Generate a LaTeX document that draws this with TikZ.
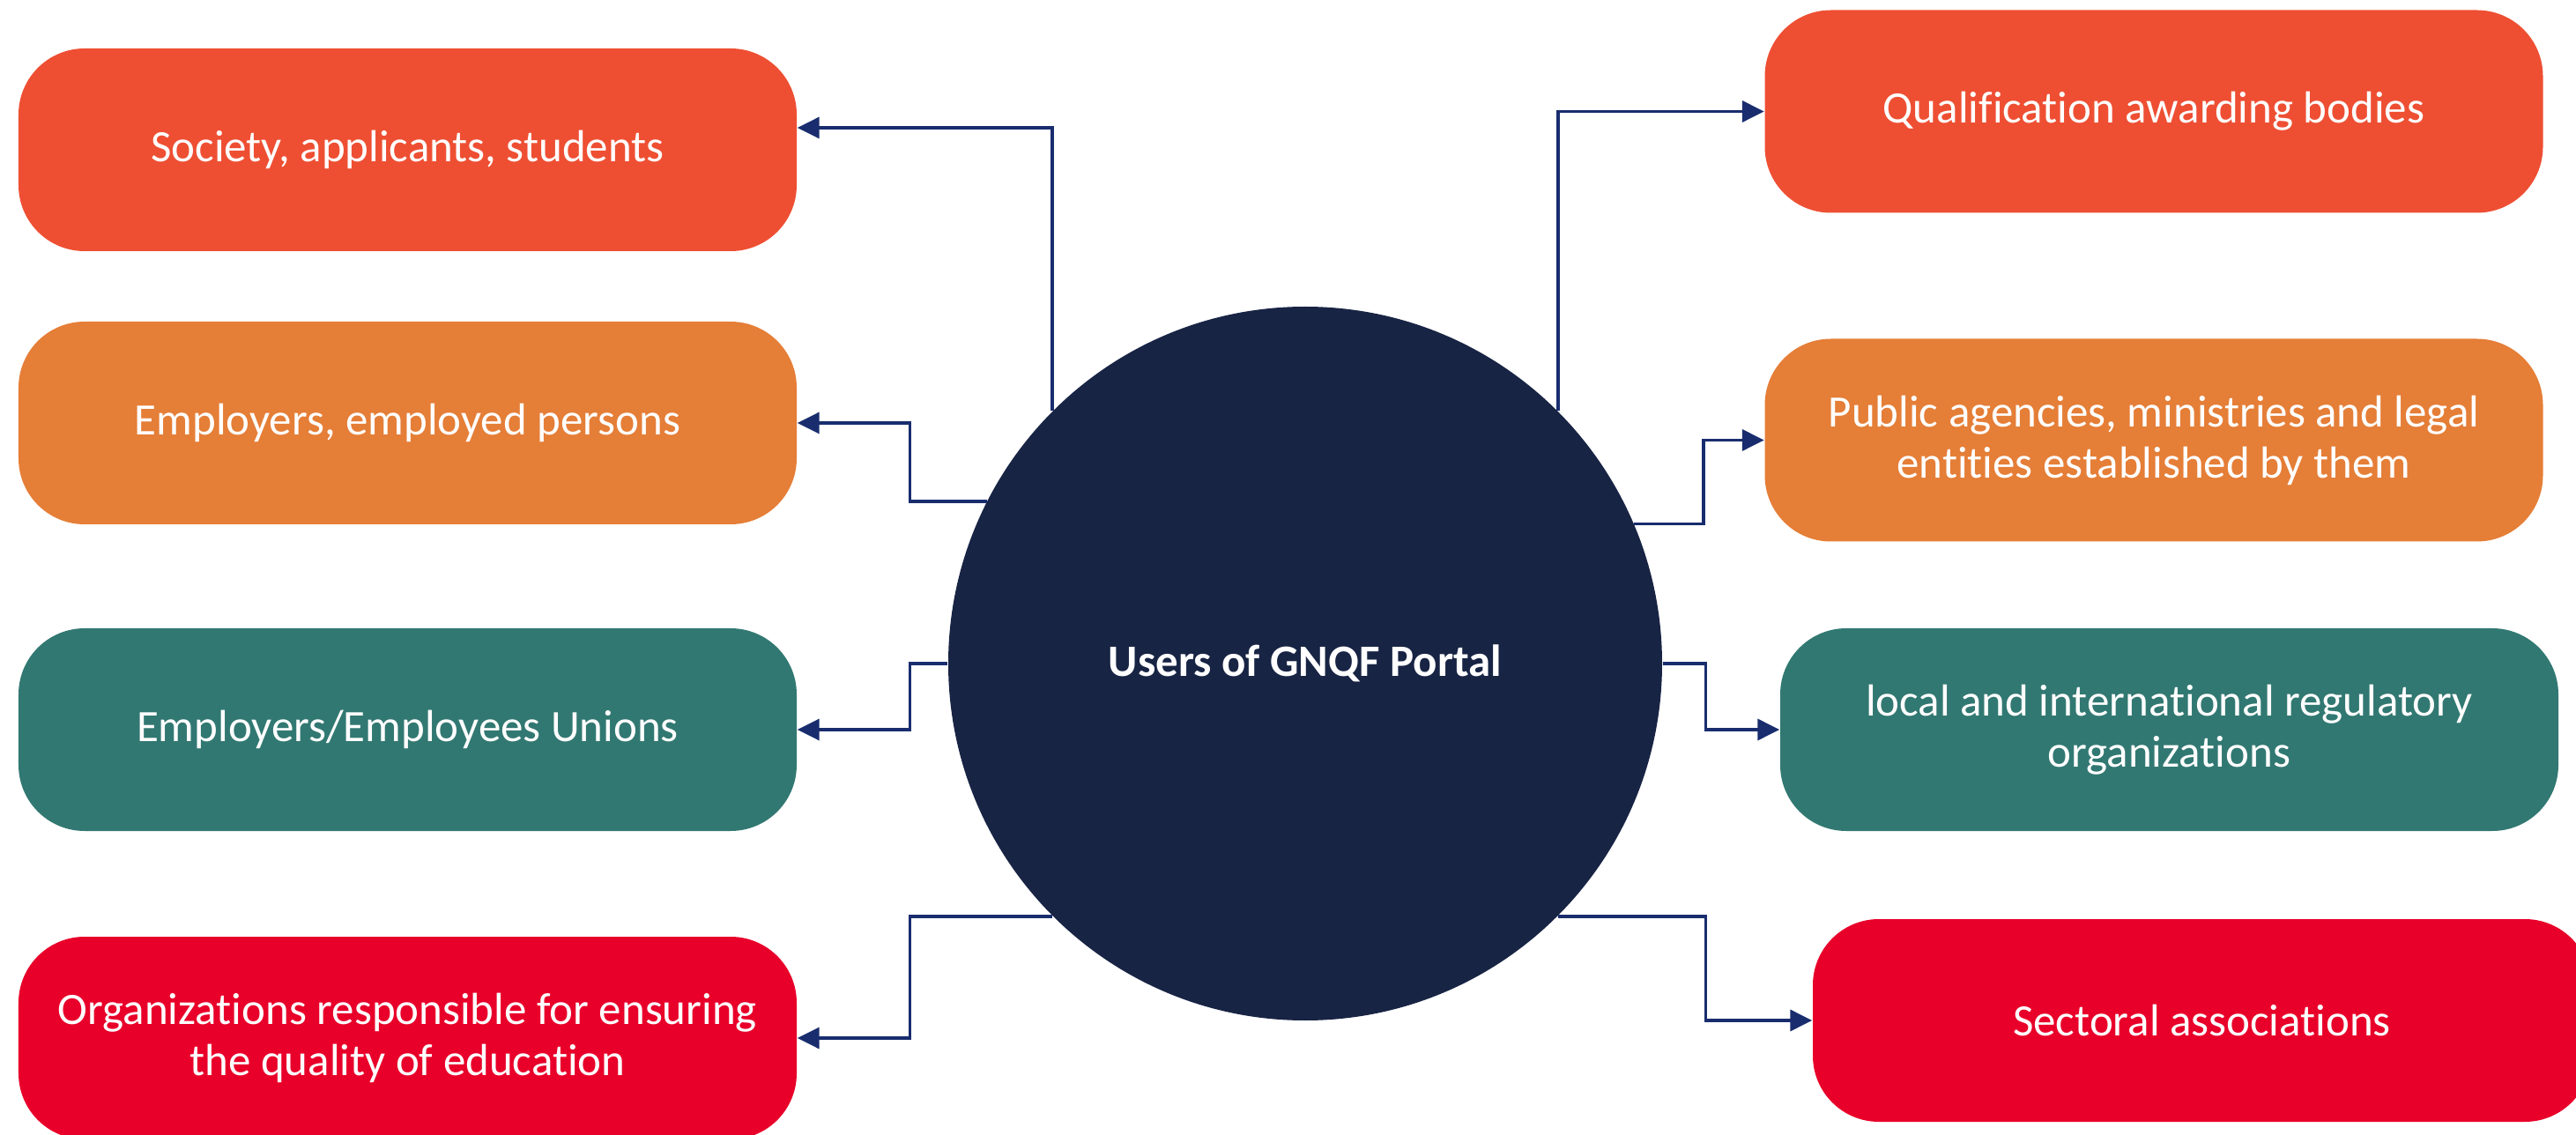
\documentclass[tikz,border=0pt]{standalone}
\usepackage{fontspec}
\setmainfont{Carlito}[Ligatures=NoCommon]
\usepackage{xcolor}
\usetikzlibrary{positioning, arrows.meta}
\usetikzlibrary{calc}

\definecolor{boxtomato}{RGB}{238,79,51}
\definecolor{boxamber}{RGB}{229,126,55}
\definecolor{boxteal}{RGB}{50,120,114}
\definecolor{boxcrimson}{RGB}{232,0,42}
\definecolor{hubnavy}{RGB}{24,36,68}
\definecolor{linknavy}{RGB}{25,45,110}

\begin{document}
\begin{tikzpicture}[
    usergroup/.style={rectangle, rounded corners=0.75cm, minimum width=8.83cm, minimum height=2.3cm,
        inner sep=0pt, text=white, align=center, font=\fontsize{14.5pt}{16.5pt}\selectfont},
    link/.style={draw=linknavy, line width=1pt, -{Triangle[length=0.25cm, width=0.24cm]}}
]
    \useasboundingbox (0,0) rectangle (29.23,-12.88);

    % Draw the central circle
    \node[circle, fill=hubnavy, minimum size=8.1cm, inner sep=0pt, text=white,
        font=\fontsize{14.5pt}{16.5pt}\selectfont\bfseries] (hub) at (14.81,-7.53) {Users of GNQF Portal};

    % Draw the groups on the left
    \node[usergroup, fill=boxtomato] (society) at (4.625,-1.70) {Society, applicants, students};
    \node[usergroup, fill=boxamber] (employers) at (4.625,-4.80) {Employers, employed persons};
    \node[usergroup, fill=boxteal] (unions) at (4.625,-8.28) {Employers/Employees Unions};
    \node[usergroup, fill=boxcrimson] (quality) at (4.625,-11.78) {Organizations responsible for ensuring\\the quality of education};

    % Draw the groups on the right
    \node[usergroup, fill=boxtomato] (awarding) at (24.44,-1.265) {Qualification awarding bodies};
    \node[usergroup, fill=boxamber] (agencies) at (24.44,-4.995) {Public agencies, ministries and legal\\entities established by them};
    \node[usergroup, fill=boxteal] (regulators) at (24.615,-8.28) {local and international regulatory\\organizations};
    \node[usergroup, fill=boxcrimson] (sectoral) at (24.985,-11.58) {Sectoral associations};

    % Draw the connectors to the left
    \draw[link] (hub.135) |- ([yshift=2.5mm]society.east);
    \draw[link] (hub.153) -| ($(employers.east)+(1.28,0)$) -- (employers.east);
    \draw[link] (hub.west) -| ($(unions.east)+(1.28,0)$) -- (unions.east);
    \draw[link] (hub.225) -| ($(quality.east)+(1.28,0)$) -- (quality.east);

    % Draw the connectors to the right
    \draw[link] (hub.45) |- (awarding.west);
    \draw[link] (hub.23) -| ($(agencies.west)+(-0.69,0)$) -- (agencies.west);
    \draw[link] (hub.east) -| ($(regulators.west)+(-0.84,0)$) -- (regulators.west);
    \draw[link] (hub.-45) -| ($(sectoral.west)+(-1.21,0)$) -- (sectoral.west);
\end{tikzpicture}
\end{document}
